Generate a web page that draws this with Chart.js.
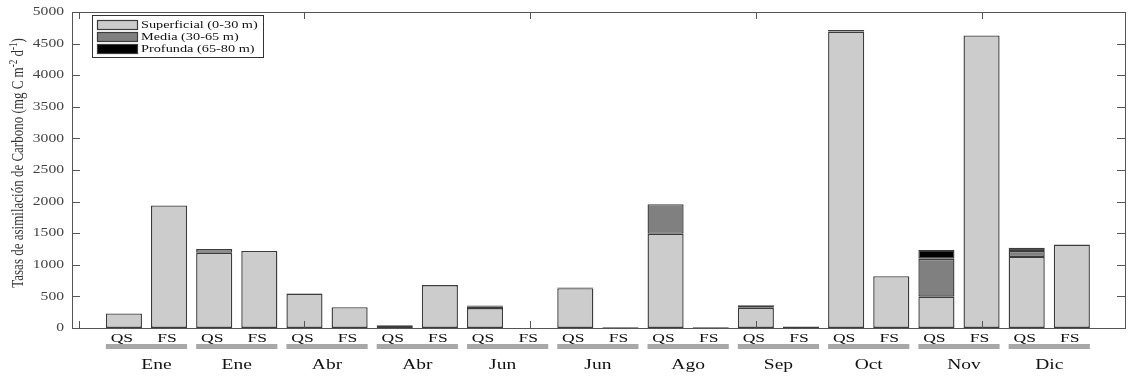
<!DOCTYPE html>
<html>
<head>
<meta charset="utf-8">
<script src="https://cdn.jsdelivr.net/npm/chart.js@4/dist/chart.umd.min.js"></script>
<style>
  html, body { margin: 0; padding: 0; background: #ffffff; }
  #wrap { width: 1128px; height: 377px; }
</style>
</head>
<body>
<div id="wrap"><canvas id="c" width="1128" height="377"></canvas></div>
<script>
// Sampling campaigns (one QS / FS pair per campaign)
const months = ['Ene', 'Ene', 'Abr', 'Abr', 'Jun', 'Jun', 'Ago', 'Sep', 'Oct', 'Nov', 'Dic'];
const stations = ['QS', 'FS'];
const barPositions = [1, 2, 3, 4, 5, 6, 7, 8, 9, 10, 11, 12, 13, 14, 15, 16, 17, 18, 19, 20, 21, 22];

// Carbon assimilation per depth layer (mg C m-2 d-1), bars in order QS, FS, QS, FS, ...
const superficial = [230, 1940, 1190, 1220, 540, 330, 30, 680, 315, 0, 630, 10, 1490, 10, 320, 25, 4690, 820, 495, 4630, 1125, 1320];
const media       = [0, 0, 60, 0, 10, 0, 15, 0, 30, 0, 10, 0, 470, 0, 40, 0, 25, 0, 600, 0, 95, 0];
const profunda    = [0, 0, 0, 0, 0, 0, 0, 0, 10, 0, 0, 0, 0, 0, 0, 0, 0, 0, 140, 0, 50, 0];

const seriesNames = ['Superficial (0-30 m)', 'Media (30-65 m)', 'Profunda (65-80 m)'];
const yTickValues = [0, 500, 1000, 1500, 2000, 2500, 3000, 3500, 4000, 4500, 5000];
const xTickValues = [0, 5, 10, 15, 20];

const serif = '"Liberation Serif", "Times New Roman", serif';
const STRETCH = 1.3;           // wide serif lettering
const FRAME = '#555555';
const BAR_EDGE = '#3c3c3c';
const fills = ['#cccccc', '#808080', '#000000'];

function points(values) {
  return values.map((v, i) => ({ x: barPositions[i], y: v }));
}

function wideText(ctx, text, x, y, align, size, color) {
  ctx.save();
  ctx.font = size + 'px ' + serif;
  ctx.fillStyle = color;
  ctx.textAlign = align;
  ctx.textBaseline = 'middle';
  ctx.translate(x, y);
  ctx.scale(STRETCH, 1);
  ctx.fillText(text, 0, 0);
  ctx.restore();
}

const decorations = {
  id: 'decorations',
  afterDraw(chart) {
    const ctx = chart.ctx;
    const area = chart.chartArea;
    const xs = chart.scales.x;
    const ys = chart.scales.y;

    // axes box
    ctx.save();
    ctx.strokeStyle = FRAME;
    ctx.lineWidth = 1;
    ctx.strokeRect(Math.round(area.left) + 0.5, Math.round(area.top) + 0.5,
                   Math.round(area.right - area.left) - 1, Math.round(area.bottom - area.top));

    // inward tick marks
    ctx.beginPath();
    xs.ticks.forEach(t => {
      const px = Math.round(xs.getPixelForValue(t.value)) + 0.5;
      ctx.moveTo(px, area.bottom); ctx.lineTo(px, area.bottom - 7);
      ctx.moveTo(px, area.top); ctx.lineTo(px, area.top + 7);
    });
    ys.ticks.forEach(t => {
      const py = Math.round(ys.getPixelForValue(t.value)) + 0.5;
      ctx.moveTo(area.left, py); ctx.lineTo(area.left + 8, py);
      ctx.moveTo(area.right, py); ctx.lineTo(area.right - 9, py);
    });
    ctx.stroke();
    ctx.restore();

    // y tick labels
    ys.ticks.forEach(t => {
      wideText(ctx, String(t.value), area.left - 8, ys.getPixelForValue(t.value), 'right', 12, '#444444');
    });

    // station labels, campaign bands and month labels
    const unit = xs.getPixelForValue(1) - xs.getPixelForValue(0);
    const monthShift = [10, 0, 0, 0, -5, 0, 0, 0, 0, 5, 0];
    barPositions.forEach((p, i) => {
      wideText(ctx, stations[i % 2], xs.getPixelForValue(p) - 2, 338, 'center', 13.5, '#111111');
    });
    months.forEach((m, k) => {
      const a = barPositions[2 * k], b = barPositions[2 * k + 1];
      const left = xs.getPixelForValue(a) - 0.4 * unit;
      const right = xs.getPixelForValue(b) + 0.4 * unit;
      ctx.fillStyle = '#a8a8a8';
      ctx.fillRect(left, 344, right - left, 5);
      wideText(ctx, m, (left + right) / 2 + monthShift[k], 365, 'center', 15, '#111111');
    });

    // y axis title with superscripts
    ctx.save();
    ctx.translate(19, 163);
    ctx.rotate(-Math.PI / 2);
    ctx.scale(1, STRETCH);
    ctx.fillStyle = '#333333';
    ctx.textBaseline = 'middle';
    const parts = [
      ['Tasas de asimilación de Carbono (mg C m', false],
      ['-2', true],
      [' d', false],
      ['-1', true],
      [')', false]
    ];
    const fontFor = sup => (sup ? '9px ' : '13px ') + serif;
    let total = 0;
    parts.forEach(([s, sup]) => { ctx.font = fontFor(sup); total += ctx.measureText(s).width; });
    let cx = -total / 2;
    parts.forEach(([s, sup]) => {
      ctx.font = fontFor(sup);
      ctx.fillText(s, cx, sup ? -4 : 0);
      cx += ctx.measureText(s).width;
    });
    ctx.restore();

    // legend
    ctx.save();
    ctx.fillStyle = '#ffffff';
    ctx.fillRect(92, 15, 171, 42);
    ctx.strokeStyle = '#333333';
    ctx.lineWidth = 1;
    ctx.strokeRect(92.5, 15.5, 171, 42);
    const rows = [25, 37, 49];
    chart.data.datasets.forEach((ds, i) => {
      ctx.fillStyle = ds.backgroundColor;
      ctx.fillRect(97, rows[i] - 5, 41, 10);
      ctx.strokeStyle = BAR_EDGE;
      ctx.lineWidth = 1.2;
      ctx.strokeRect(97.5, rows[i] - 4.5, 40, 9);
      wideText(ctx, ds.label, 141, rows[i], 'left', 11, '#111111');
    });
    ctx.restore();
  }
};

const common = {
  borderColor: BAR_EDGE,
  borderWidth: 1.4,
  borderSkipped: false,
  barPercentage: 0.8,
  categoryPercentage: 1.0,
  stack: 'depth'
};

new Chart(document.getElementById('c'), {
  type: 'bar',
  data: {
    datasets: [
      Object.assign({ label: seriesNames[0], data: points(superficial), backgroundColor: fills[0] }, common),
      Object.assign({ label: seriesNames[1], data: points(media), backgroundColor: fills[1] }, common),
      Object.assign({ label: seriesNames[2], data: points(profunda), backgroundColor: fills[2] }, common)
    ]
  },
  options: {
    responsive: false,
    animation: false,
    devicePixelRatio: 1,
    layout: { padding: { top: 12, right: 2, left: 0, bottom: 0 } },
    plugins: { legend: { display: false }, tooltip: { enabled: false } },
    scales: {
      x: {
        type: 'linear',
        min: -0.15,
        max: 23.2,
        offset: false,
        afterBuildTicks: s => { s.ticks = xTickValues.map(v => ({ value: v })); },
        afterFit: s => { s.height = 49; },
        ticks: { display: false },
        grid: { display: false, drawTicks: false },
        border: { display: false }
      },
      y: {
        stacked: true,
        min: 0,
        max: 5000,
        afterBuildTicks: s => { s.ticks = yTickValues.map(v => ({ value: v })); },
        afterFit: s => { s.width = 72; },
        ticks: { display: false },
        grid: { display: false, drawTicks: false },
        border: { display: false }
      }
    }
  },
  plugins: [decorations]
});
</script>
</body>
</html>
